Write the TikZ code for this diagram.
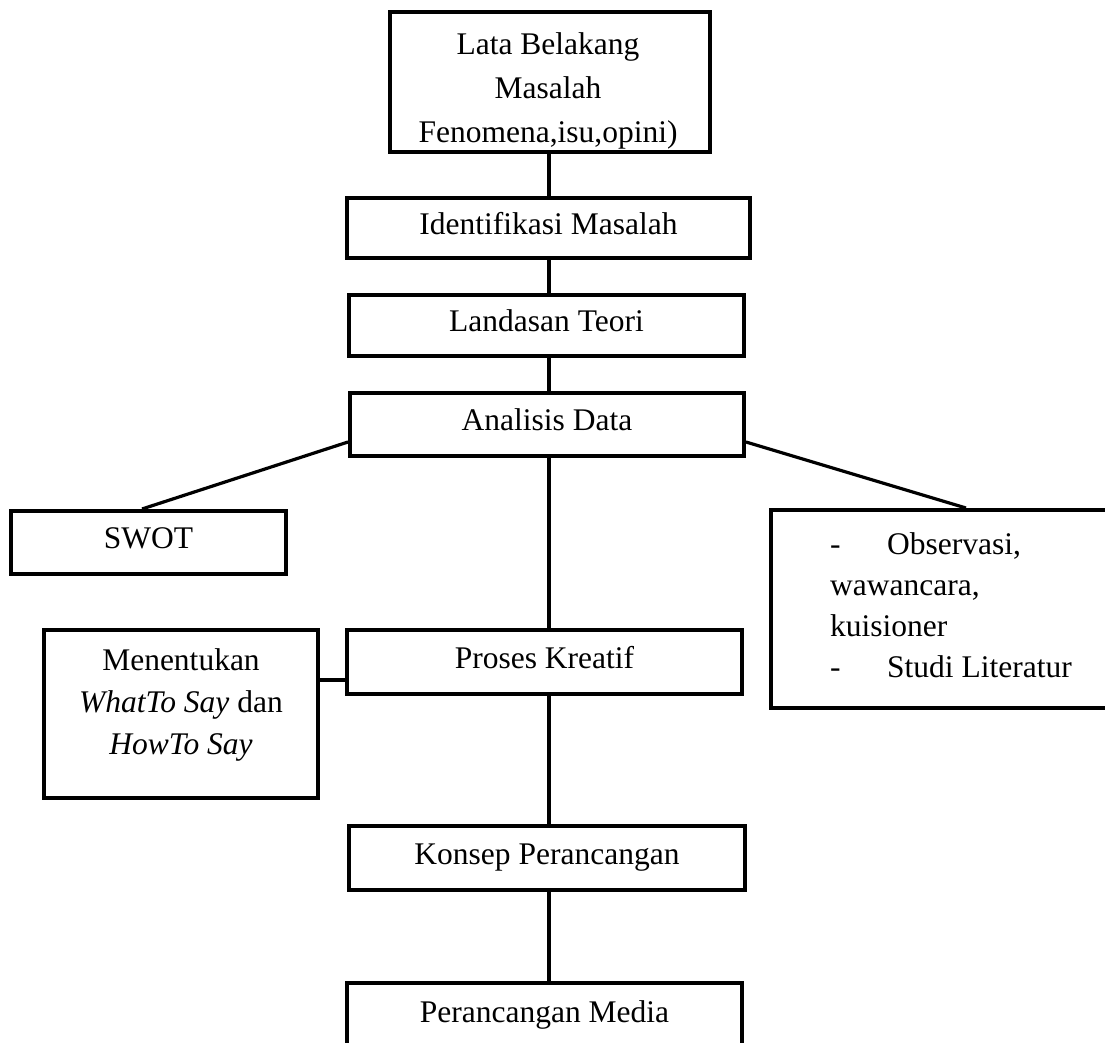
\documentclass[tikz,border=0pt]{standalone}
\usepackage{fontspec}
\setmainfont{Liberation Serif}
\begin{document}
\begin{tikzpicture}[x=1pt,y=-1pt,
  box/.style={draw, line width=4pt, inner sep=0pt, font=\fontsize{31.5}{42}\selectfont, text height=21pt, text depth=9pt},
  emptybox/.style={draw, line width=4pt, inner sep=0pt},
  txt/.style={inner sep=0pt, font=\fontsize{31.5}{42}\selectfont},
  conn/.style={line width=3.8pt},
  slant/.style={line width=3.2pt}]
\useasboundingbox (0,0) rectangle (1105,1043);
% boxes
\node[emptybox, minimum width=320pt, minimum height=140pt] (lata) at (550,82) {};
\node[txt, align=center, anchor=north, font=\fontsize{31.5}{44}\selectfont] (latatxt) at (548,32) {Lata Belakang\\Masalah\\Fenomena,isu,opini)};
\node[box, minimum width=403pt, minimum height=60pt] (ident) at (548.5,228) {Identifikasi Masalah};
\node[box, minimum width=395pt, minimum height=61pt] (landasan) at (546.5,325.5) {Landasan Teori};
\node[box, minimum width=394pt, minimum height=63pt] (analisis) at (547,424.5) {Analisis Data};
\node[box, minimum width=275pt, minimum height=63pt] (swot) at (148.5,542.5) {SWOT};
\node[emptybox, minimum width=379pt, minimum height=198pt] (obsbox) at (960.5,609) {};
\node[txt, align=left, anchor=north west, font=\fontsize{31.5}{41.3}\selectfont] (obstxt) at (830,532) {\makebox[57pt][l]{-}Observasi,\\wawancara,\\kuisioner\\\makebox[57pt][l]{-}Studi Literatur};
\node[emptybox, minimum width=274pt, minimum height=168pt] (menentukan) at (181,714) {};
\node[txt, align=center, anchor=north] (mentxt) at (181,648) {Menentukan\\\textit{WhatTo Say} dan\\\textit{HowTo Say}};
\node[box, minimum width=395pt, minimum height=64pt] (proses) at (544.5,662) {Proses Kreatif};
\node[box, minimum width=396pt, minimum height=64pt] (konsep) at (547,858) {Konsep Perancangan};
\node[emptybox, anchor=north, minimum width=395pt, minimum height=150pt] (media) at (544.5,981) {};
\node[txt, anchor=base] (mediatxt) at (544.5,1022) {Perancangan Media};
% connectors
\coordinate (sp) at (549,0);
\draw[conn] (lata.south -| sp) -- (ident.north -| sp);
\draw[conn] (ident.south -| sp) -- (landasan.north -| sp);
\draw[conn] (landasan.south -| sp) -- (analisis.north -| sp);
\draw[conn] (analisis.south -| sp) -- (proses.north -| sp);
\draw[conn] (proses.south -| sp) -- (konsep.north -| sp);
\draw[conn] (konsep.south -| sp) -- (media.north -| sp);
\draw[slant] ([yshift=-17.5pt]analisis.west) -- ([xshift=-6.5pt]swot.north);
\draw[slant] ([yshift=-17.5pt]analisis.east) -- ([xshift=197pt]obsbox.north west);
\coordinate (pk) at ([yshift=-18pt]proses.west);
\draw[conn] (pk) -- (pk -| menentukan.east);
\end{tikzpicture}
\end{document}
